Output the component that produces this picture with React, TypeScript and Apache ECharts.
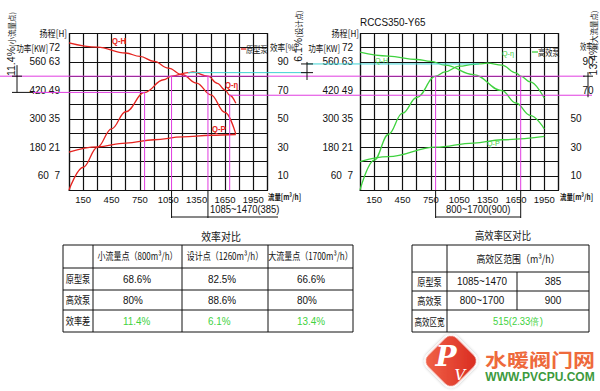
import React, { useEffect, useRef } from "react";
import * as echarts from "echarts";

// ---------- data ----------
const flowLabels = [150, 450, 750, 1050, 1350, 1650, 1950];
const headPowerLabels: Record<number, string> = {
  10: "60  7",
  30: "180 21",
  50: "300 35",
  70: "420 49",
  90: "560 63",
  100: "72",
};
const effLabels = [10, 30, 50, 70, 90];

// 原型泵 (prototype pump): [Q m3/h, value]
const protoHead = [[0, 72.4], [300, 70.3], [600, 67.4], [750, 65.7], [900, 63.3], [1050, 60.0], [1200, 56.7], [1350, 52.6], [1500, 46.8], [1650, 38.2], [1765, 27.5]];
const protoEff = [[0, 0], [150, 16], [300, 30], [450, 43], [600, 55], [800, 68.6], [1000, 77.5], [1085, 80], [1260, 82.5], [1310, 83], [1470, 80], [1570, 75], [1650, 70.4], [1700, 66.6], [1765, 61]];
const protoPower = [[0, 160], [300, 182], [600, 198], [900, 212], [1200, 224], [1500, 231], [1765, 234]];

// 高效泵 (high-efficiency pump)
const highHead = [[0, 67.8], [300, 65.9], [600, 64.2], [750, 63.3], [900, 61.4], [1200, 56.8], [1500, 48.9], [1650, 42.8], [1800, 36.7], [1950, 30.1]];
const highEff = [[0, 0], [150, 21], [300, 39], [450, 54], [600, 65], [800, 80], [900, 83], [1050, 87], [1200, 88.3], [1260, 88.6], [1350, 89.2], [1500, 87.8], [1650, 82.3], [1700, 80], [1800, 76], [1950, 64.5]];
const highPower = [[0, 120], [300, 141], [800, 181], [1200, 198], [1500, 212], [1950, 226]];

const pointNames = ["小流量点", "设计点", "大流量点"];
const pointFlows = [800, 1260, 1700];
const protoPointEff = [68.6, 82.5, 66.6];
const highPointEff = [80, 88.6, 80];
const effGain = ["11.4%", "6.1%", "13.4%"];
const rowNames = ["原型泵", "高效泵", "效率差"];
const rangeRowNames = ["原型泵", "高效泵", "高效区宽"];
const protoRange = [1085, 1470];
const highRange = [800, 1700];
const rangeWidths = [385, 900];
const rangeGain = "515(2.33倍)";
const modelName = "RCCS350-Y65";

// ---------- style ----------
const NUM = "'Liberation Sans',Arial,sans-serif";
const CJK = "'Noto Sans CJK SC','Noto Sans',sans-serif";
const RED = "#e52420";
const GREEN = "#3fd23f";
const MAG = "#e03ce0";
const CYAN = "#3dd3d3";
const INK = "#111";
const GRID_TOP = 33.5;
const GRID_H = 156.5;
const GRID_W = 198.5;
const GRID_LEFTS = [69, 360];

function buildOption() {
  const grid = GRID_LEFTS.map((left) => ({ left, top: GRID_TOP, width: GRID_W, height: GRID_H }));
  const xAxis = GRID_LEFTS.map((_, i) => ({
    type: "value",
    gridIndex: i,
    min: 0,
    max: 2100,
    interval: 150,
    axisLine: { show: true, lineStyle: { color: INK, width: 1.2 } },
    axisTick: { show: false },
    splitLine: { show: true, lineStyle: { color: INK, width: 1.2 } },
    axisLabel: {
      formatter: (v: number) => (flowLabels.includes(v) ? String(v) : ""),
      color: INK,
      fontSize: 9.5,
      fontFamily: NUM,
      margin: 4,
    },
  }));
  const yAxis: any[] = [];
  GRID_LEFTS.forEach((_, i) => {
    yAxis.push({
      type: "value",
      gridIndex: i,
      min: 0,
      max: 110,
      interval: 10,
      position: "left",
      axisLine: { show: true, lineStyle: { color: INK, width: 1.2 } },
      axisTick: { show: false },
      splitLine: { show: true, lineStyle: { color: INK, width: 1.2 } },
      axisLabel: {
        formatter: (v: number) => headPowerLabels[v] ?? "",
        color: INK,
        fontSize: 10,
        fontFamily: NUM,
        margin: i === 0 ? 9 : 7,
      },
    });
    yAxis.push({
      type: "value",
      gridIndex: i,
      min: 0,
      max: 110,
      interval: 10,
      position: "right",
      axisLine: { show: true, lineStyle: { color: INK, width: 1.2 } },
      axisTick: { show: false },
      splitLine: { show: false },
      axisLabel: {
        formatter: (v: number) =>
          effLabels.includes(v) ? (i === 1 && v >= 70 ? `{s|${v}}` : String(v)) : "",
        rich: { s: { padding: [0, 0, 0, 12], fontSize: 10, fontFamily: NUM, color: INK } },
        color: INK,
        fontSize: 10,
        fontFamily: NUM,
        margin: i === 0 ? 10 : 12,
      },
    });
    yAxis.push({ type: "value", gridIndex: i, min: 0, max: 77, show: false });
    yAxis.push({ type: "value", gridIndex: i, min: 0, max: 660, show: false });
  });

  const mk = (data: number[][], g: number, yIdx: number, color: string) => ({
    type: "line",
    xAxisIndex: g,
    yAxisIndex: g * 4 + yIdx,
    data,
    smooth: 0.4,
    smoothMonotone: "x",
    symbol: "none",
    silent: true,
    lineStyle: { color, width: 1.3 },
    z: 5,
  });

  return {
    animation: false,
    backgroundColor: "#fff",
    grid,
    xAxis,
    yAxis,
    series: [
      mk(protoHead, 0, 2, RED),
      mk(protoEff, 0, 0, RED),
      mk(protoPower, 0, 3, RED),
      mk(highHead, 1, 2, GREEN),
      mk(highEff, 1, 0, GREEN),
      mk(highPower, 1, 3, GREEN),
    ],
  };
}

function buildGraphic(chart: any) {
  const X = (g: number, q: number) => chart.convertToPixel({ xAxisIndex: g }, q) as number;
  const Y = (g: number, e: number) => chart.convertToPixel({ yAxisIndex: g * 4 }, e) as number;
  const els: any[] = [];
  const L = (x1: number, y1: number, x2: number, y2: number, stroke: string, lineWidth = 1) =>
    els.push({ type: "line", silent: true, z: 10, shape: { x1, y1, x2, y2 }, style: { stroke, lineWidth } });
  const T = (x: number, y: number, text: string, o: any = {}) =>
    els.push({
      type: "text",
      silent: true,
      z: 11,
      x,
      y,
      rotation: o.rot ?? 0,
      scaleX: o.sx ?? 1,
      scaleY: o.sy ?? 1,
      style: {
        text,
        fill: o.fill ?? INK,
        fontSize: o.size ?? 10,
        fontFamily: o.font ?? CJK,
        fontWeight: o.weight ?? "normal",
        fontStyle: o.style ?? "normal",
        align: o.align ?? "left",
        verticalAlign: o.va ?? "middle",
        rich: o.rich,
      },
    });

  const y0 = Y(0, 0);
  const y80 = Y(0, highPointEff[0]);
  const ySmall = Y(0, protoPointEff[0]);
  const yDesign = Y(0, protoPointEff[1]);
  const yLarge = Y(0, protoPointEff[2]);
  const yHighDesign = Y(1, highPointEff[1]);

  // reference lines
  L(0, y80, 585, y80, MAG);
  L(33, ySmall, X(0, pointFlows[0]), ySmall, MAG);
  L(X(0, pointFlows[2]), yLarge, 592, yLarge, MAG);
  L(X(0, pointFlows[1]), yDesign, 307, yDesign, CYAN);
  L(307, yHighDesign, X(1, pointFlows[1]), yHighDesign, CYAN);
  L(X(0, pointFlows[0]), ySmall, X(0, pointFlows[0]), y0, MAG);
  L(X(0, pointFlows[2]), yLarge, X(0, pointFlows[2]), y0, MAG);
  protoRange.forEach((q) => {
    L(X(0, q), y80, X(0, q), y0, MAG);
    L(X(0, q), y0, X(0, q), 218, INK);
  });
  highRange.forEach((q) => {
    L(X(1, q), y80, X(1, q), y0, MAG);
    L(X(1, q), y0, X(1, q), 218, INK);
  });
  // dimension lines
  L(X(0, protoRange[0]), 217, 278, 217, INK);
  L(X(1, highRange[0]), 217, X(1, highRange[1]), 217, INK);
  T(X(0, protoRange[1]) + 2, 209, `${protoRange[0]}~${protoRange[1]}(${rangeWidths[0]})`, { font: NUM, size: 10.5, sx: 0.9 });
  T((X(1, highRange[0]) + X(1, highRange[1])) / 2, 209, `${highRange[0]}~${highRange[1]}(${rangeWidths[1]})`, { font: NUM, size: 10.5, sx: 0.9, align: "center" });

  // brackets and vertical gain texts
  L(17, y80 - 11, 17, ySmall, INK);
  L(12, y80, 22, y80, INK);
  L(12, ySmall, 33, ySmall, INK);
  L(307, yHighDesign - 2, 307, 80, INK);
  L(301, yHighDesign, 313, yHighDesign, INK);
  L(301, yDesign, 313, yDesign, INK);
  L(588, y80 - 4, 588, yLarge + 2, INK);
  L(583, y80, 593, y80, INK);
  const rich = { a: { fontSize: 10.5, fontFamily: NUM, fill: INK }, b: { fontSize: 7.5, fontFamily: CJK, fill: INK } };
  T(11, 44, `{a|${effGain[0]}}{b|(${pointNames[0]})}`, { rot: Math.PI / 2, align: "center", rich });
  T(298, 36, `{a|${effGain[1]}}{b|(${pointNames[1]})}`, { rot: Math.PI / 2, align: "center", rich });
  T(593, 43, `{a|${effGain[2]}}{b|(${pointNames[2]})}`, { rot: Math.PI / 2, align: "center", rich });

  // axis titles
  T(67, 33, "扬程[H]", { size: 9.5, align: "right", sx: 0.85 });
  T(359, 33, "扬程[H]", { size: 9.5, align: "right", sx: 0.85 });
  T(48, 47.7, "功率[KW]", { size: 9.5, align: "right", sx: 0.8 });
  T(340, 47.7, "功率[KW]", { size: 9.5, align: "right", sx: 0.8 });
  T(270, 47, "效率[%]", { size: 9.5, sx: 0.8 });
  T(580, 46, "效率%", { size: 9, sx: 0.7 });
  T(268, 197, "流量[m³/h]", { size: 8, weight: "bold", sx: 0.8 });
  T(560, 197, "流量[m³/h]", { size: 8, weight: "bold", sx: 0.8 });
  T(360, 22, modelName, { font: NUM, size: 11, sx: 0.9 });

  // legends and curve labels
  L(241, 49, 246, 49, RED, 1.3);
  T(246, 49, "原型泵", { size: 9, sx: 0.8 });
  L(532, 52, 538, 52, GREEN, 1.3);
  T(538, 52, "高效泵", { size: 9, sx: 0.8 });
  T(112, 41, "Q-H", { fill: RED, size: 8.5, font: NUM, weight: "bold", sx: 0.9 });
  T(225, 85, "Q-η", { fill: RED, size: 8.5, font: NUM, weight: "bold", sx: 0.9 });
  T(212, 129, "Q-P", { fill: RED, size: 8.5, font: NUM, weight: "bold", sx: 0.9 });
  T(375, 60, "Q-H", { fill: GREEN, size: 8, font: NUM, sx: 0.9 });
  T(502, 53, "Q-η", { fill: GREEN, size: 8, font: NUM, sx: 0.9 });
  T(487, 143, "Q-P", { fill: GREEN, size: 8, font: NUM, sx: 0.9 });

  // ---- table 1: efficiency comparison ----
  const cx = [63, 93, 182, 268, 353];
  const ry = [245, 268, 290, 310, 332];
  T((cx[0] + cx[4]) / 2 + 13, 236, "效率对比", { size: 11, align: "center", sx: 0.9 });
  els.push({ type: "rect", silent: true, z: 10, shape: { x: cx[0], y: ry[0], width: cx[4] - cx[0], height: ry[4] - ry[0] }, style: { fill: "none", stroke: INK, lineWidth: 1 } });
  for (let j = 1; j < 4; j++) L(cx[j], ry[0], cx[j], ry[4], INK);
  for (let r = 1; r < 4; r++) L(cx[0], ry[r], cx[4], ry[r], INK);
  pointNames.forEach((n, j) => {
    T((cx[j + 1] + cx[j + 2]) / 2, (ry[0] + ry[1]) / 2, `${n}（${pointFlows[j]}m³/h）`, { size: 10, align: "center", sx: 0.8 });
  });
  rowNames.forEach((n, r) => T((cx[0] + cx[1]) / 2, (ry[r + 1] + ry[r + 2]) / 2, n, { size: 10.5, align: "center", sx: 0.78 }));
  const offs = [30, 26, 29];
  [protoPointEff.map((v) => `${v}%`), highPointEff.map((v) => `${v}%`), effGain].forEach((row, r) => {
    row.forEach((v, j) => {
      T(cx[j + 1] + offs[j], (ry[r + 1] + ry[r + 2]) / 2, v, { font: NUM, size: 11, sx: 0.9, fill: r === 2 ? GREEN : INK });
    });
  });

  // ---- table 2: high efficiency zone comparison ----
  const dx = [412, 447, 517, 589];
  const dy = [245, 272, 291, 310, 332];
  T(503, 235, "高效率区对比", { size: 11, align: "center", sx: 0.85 });
  els.push({ type: "rect", silent: true, z: 10, shape: { x: dx[0], y: dy[0], width: dx[3] - dx[0], height: dy[4] - dy[0] }, style: { fill: "none", stroke: INK, lineWidth: 1 } });
  L(dx[1], dy[0], dx[1], dy[4], INK);
  L(dx[2], dy[1], dx[2], dy[3], INK);
  for (let r = 1; r < 4; r++) L(dx[0], dy[r], dx[3], dy[r], INK);
  T((dx[1] + dx[3]) / 2, (dy[0] + dy[1]) / 2, "高效区范围（m³/h）", { size: 10.5, align: "center", sx: 0.85 });
  rangeRowNames.forEach((n, r) => T((dx[0] + dx[1]) / 2, (dy[r + 1] + dy[r + 2]) / 2, n, { size: 10.5, align: "center", sx: r === 2 ? 0.72 : 0.78 }));
  [protoRange, highRange].forEach((rg, r) => {
    const yy = (dy[r + 1] + dy[r + 2]) / 2;
    T((dx[1] + dx[2]) / 2, yy, `${rg[0]}~${rg[1]}`, { font: NUM, size: 11, sx: 0.9, align: "center" });
    T((dx[2] + dx[3]) / 2, yy, String(rangeWidths[r]), { font: NUM, size: 11, sx: 0.9, align: "center" });
  });
  T((dx[1] + dx[3]) / 2, (dy[3] + dy[4]) / 2, rangeGain, { font: NUM, size: 10.5, sx: 0.9, align: "center", fill: GREEN });

  // ---- watermark logo ----
  els.push({
    type: "group",
    x: 451,
    y: 361,
    silent: true,
    z: 20,
    children: [
      {
        type: "rect",
        rotation: Math.PI / 4,
        shape: { x: -21, y: -21, width: 42, height: 42, r: 9 },
        style: {
          fill: new echarts.graphic.LinearGradient(0, 0, 1, 1, [
            { offset: 0, color: "#f2664a" },
            { offset: 1, color: "#d8281e" },
          ]),
          stroke: "#fff",
          lineWidth: 1.5,
          shadowBlur: 3,
          shadowColor: "rgba(0,0,0,0.3)",
        },
      },
      { type: "text", x: -5, y: -5, style: { text: "P", fill: "#fff", fontSize: 28, fontFamily: "'DejaVu Serif',serif", fontStyle: "italic", fontWeight: "bold", align: "center", verticalAlign: "middle" } },
      { type: "text", x: 9, y: 14, style: { text: "V", fill: "#fff", fontSize: 15, fontFamily: "'DejaVu Serif',serif", fontStyle: "italic", align: "center", verticalAlign: "middle" } },
    ],
  });
  T(540, 359, "水暖阀门网", { size: 22, weight: "bold", align: "center", fill: "#ee6a3c", sy: 0.85 });
  T(540, 377, "WWW.PVCPU.COM", { size: 12, weight: "bold", align: "center", font: NUM, fill: "#3d9a3d" });

  return els;
}

export default function App() {
  const ref = useRef<HTMLDivElement>(null);
  useEffect(() => {
    const chart = echarts.init(ref.current!, undefined, { renderer: "svg" });
    chart.setOption(buildOption() as any);
    chart.setOption({ graphic: buildGraphic(chart) } as any);
    return () => chart.dispose();
  }, []);
  return (
    <div
      ref={ref}
      style={{ position: "fixed", left: 0, top: 0, width: 600, height: 391, background: "#fff" }}
    />
  );
}
